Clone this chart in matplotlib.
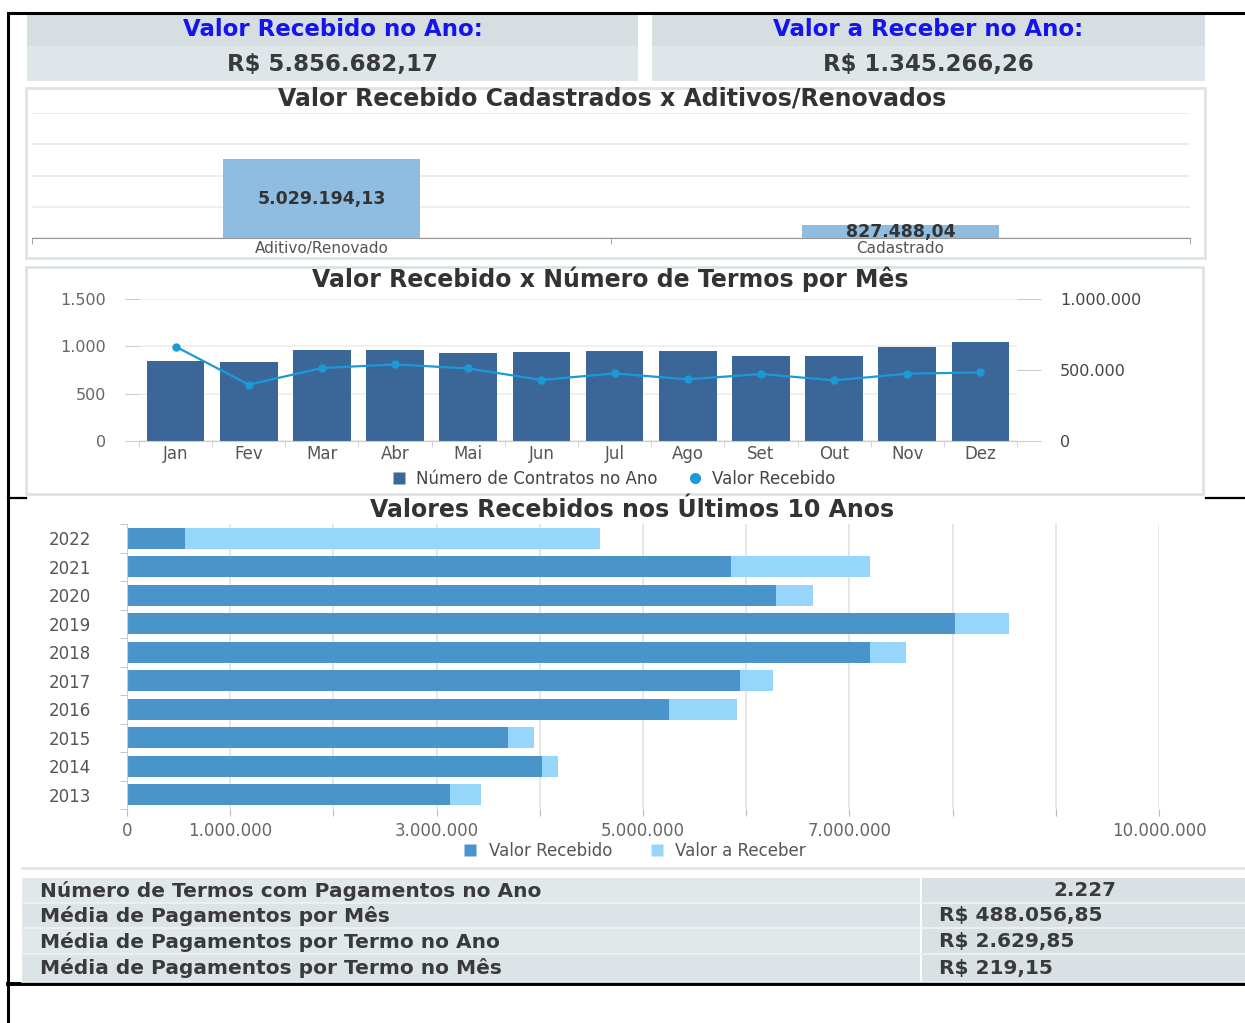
import matplotlib
matplotlib.use('Agg')
import matplotlib.pyplot as plt
from matplotlib.patches import Rectangle
from matplotlib.lines import Line2D
from matplotlib.ticker import FuncFormatter, FixedLocator
import numpy as np

W, H = 1245, 1023

# ---------------- data ----------------
kpi_labels = ['Valor Recebido no Ano:', 'Valor a Receber no Ano:']
kpi_values = ['R$ 5.856.682,17', 'R$ 1.345.266,26']

tipo_categorias = ['Aditivo/Renovado', 'Cadastrado']
tipo_valores = [5029194.13, 827488.04]
tipo_rotulos = ['5.029.194,13', '827.488,04']

meses = ['Jan', 'Fev', 'Mar', 'Abr', 'Mai', 'Jun', 'Jul', 'Ago', 'Set', 'Out', 'Nov', 'Dez']
num_contratos = [848, 831, 962, 958, 933, 937, 951, 951, 901, 898, 990, 1047]
valor_recebido_mes = [665000, 397000, 514000, 539000, 511000, 430000,
                      476000, 434000, 472000, 427000, 474000, 483000]

anos = ['2013', '2014', '2015', '2016', '2017', '2018', '2019', '2020', '2021', '2022']
valor_recebido_ano = [3130000, 4020000, 3690000, 5250000, 5940000,
                      7200000, 8020000, 6290000, 5857000, 560000]
valor_a_receber_ano = [300000, 160000, 250000, 660000, 320000,
                       350000, 530000, 360000, 1345000, 4020000]
anos_xticks = [0, 1e6, 2e6, 3e6, 4e6, 5e6, 6e6, 7e6, 8e6, 9e6, 10e6]
anos_xticklabels = ['0', '1.000.000', '', '3.000.000', '', '5.000.000', '',
                    '7.000.000', '', '', '10.000.000']

tabela_rotulos = ['Número de Termos com Pagamentos no Ano',
                  'Média de Pagamentos por Mês',
                  'Média de Pagamentos por Termo no Ano',
                  'Média de Pagamentos por Termo no Mês']
tabela_valores = ['2.227', 'R$ 488.056,85', 'R$ 2.629,85', 'R$ 219,15']

# ---------------- helpers ----------------
plt.rcParams['font.family'] = ['DejaVu Sans']
fig = plt.figure(figsize=(W / 100, H / 100), dpi=100)
fig.patch.set_facecolor('white')
renderer = fig.canvas.get_renderer()

WF = 0.66  # share of the reference's (stretched) text width that we reproduce


def px(x0, y0, x1, y1):
    return [x0 / W, 1 - y1 / H, (x1 - x0) / W, (y1 - y0) / H]


def br(v, pos=None):
    return f"{int(round(v)):,}".replace(',', '.')


bg = fig.add_axes([0, 0, 1, 1], zorder=-5)
bg.set_xlim(0, W)
bg.set_ylim(H, 0)
bg.axis('off')


def fit_text(x, y, s, target_w, maxsize=None, ax=None, **kw):
    ax = ax or bg
    t = ax.text(x, y, s, fontsize=10, **kw)
    w = t.get_window_extent(renderer).width
    size = 10 * target_w * WF / w
    if maxsize:
        size = min(size, maxsize)
    t.set_fontsize(size)
    return t


def rect(x0, y0, x1, y1, **kw):
    bg.add_patch(Rectangle((x0, y0), x1 - x0, y1 - y0, **kw))


# frame lines
bg.plot([8, 8], [13, H], color='black', lw=2.2)
bg.plot([8, W], [13, 13], color='black', lw=2.2)
bg.plot([8, 26], [498, 498], color='black', lw=1.6)
bg.plot([1206, W], [498, 498], color='black', lw=1.6)
bg.plot([8, W], [984, 984], color='black', lw=2.8)

# ---------------- KPI boxes ----------------
kpi_boxes = [(27, 638), (652, 1205)]
kpi_label_w = [503, 520]
kpi_value_w = [326, 330]
for (x0, x1), lab, val, lw_, vw_ in zip(kpi_boxes, kpi_labels, kpi_values, kpi_label_w, kpi_value_w):
    rect(x0, 15, x1, 46, facecolor='#d6dee1', edgecolor='none')
    rect(x0, 46, x1, 81, facecolor='#dfe6e9', edgecolor='none')
    cx = (x0 + x1) / 2
    fit_text(cx, 30, lab, lw_, maxsize=16.5, ha='center', va='center', color='#1414f0', fontweight='bold')
    fit_text(cx, 64, val, vw_, maxsize=16.5, ha='center', va='center', color='#3a3a3a', fontweight='bold')

# ---------------- chart boxes ----------------
rect(26, 88, 1205, 258, facecolor='white', edgecolor='#dde3e5', lw=2)
rect(26, 267, 1203, 494, facecolor='white', edgecolor='#dde3e5', lw=2)

# ---------------- chart 1 ----------------
fit_text(612, 99, 'Valor Recebido Cadastrados x Aditivos/Renovados', 1058, maxsize=17,
         ha='center', va='center', color='#333333', fontweight='bold')
ax1 = fig.add_axes(px(32, 113, 1190, 238))
ax1.set_facecolor('none')
x1pos = np.arange(len(tipo_categorias))
ax1.bar(x1pos, tipo_valores, width=0.34, color='#8fbde1', zorder=2)
ax1.set_xlim(-0.5, 1.5)
ax1.set_ylim(0, 8e6)
ax1.set_yticks([0, 2e6, 4e6, 6e6, 8e6])
ax1.yaxis.grid(True, color='#ebebeb', lw=1.2)
ax1.tick_params(axis='y', length=0, labelleft=False)
for s in ['top', 'right', 'left']:
    ax1.spines[s].set_visible(False)
ax1.spines['bottom'].set_color('#999999')
ax1.set_xticks(x1pos)
ax1.set_xticklabels(tipo_categorias, color='#555555', fontsize=11)
ax1.tick_params(axis='x', length=0, pad=2)
ax1.xaxis.set_minor_locator(FixedLocator([-0.5, 0.5, 1.5]))
ax1.tick_params(axis='x', which='minor', length=4, color='#999999')
for xp, v, lab in zip(x1pos, tipo_valores, tipo_rotulos):
    ax1.text(xp, v / 2, lab, ha='center', va='center', color='#333333',
             fontsize=12.5, fontweight='bold', zorder=3)

# ---------------- chart 2 ----------------
fit_text(610, 279, 'Valor Recebido x Número de Termos por Mês', 946, maxsize=17,
         ha='center', va='center', color='#333333', fontweight='bold')
ax2 = fig.add_axes(px(139, 299, 1017, 441))
ax2.set_facecolor('none')
xm = np.arange(len(meses))
ax2.bar(xm, num_contratos, width=0.79, color='#3a6698', zorder=2,
        label='Número de Contratos no Ano')
ax2.set_xlim(-0.5, len(meses) - 0.5)
ax2.set_ylim(0, 1500)
ax2.set_yticks([0, 500, 1000, 1500])
ax2.yaxis.set_major_formatter(FuncFormatter(br))
ax2.yaxis.grid(True, color='#eeeeee', lw=1.2)
ax2.set_axisbelow(True)
for s in ['top', 'right', 'left']:
    ax2.spines[s].set_visible(False)
ax2.spines['bottom'].set_color('#cccccc')
ax2.tick_params(axis='y', length=10, color='#cccccc', pad=14, labelcolor='#666666', labelsize=11.5)
ax2.set_xticks(xm)
ax2.set_xticklabels(meses, color='#555555', fontsize=12)
ax2.tick_params(axis='x', length=0, pad=3)
ax2.xaxis.set_minor_locator(FixedLocator(np.arange(-0.5, len(meses), 1.0)))
ax2.tick_params(axis='x', which='minor', length=4, color='#cccccc')

ax2b = ax2.twinx()
ax2b.plot(xm, valor_recebido_mes, color='#1b9ad7', lw=1.6, marker='o', ms=5, zorder=4,
          label='Valor Recebido')
ax2b.set_ylim(0, 1000000)
ax2b.set_yticks([0, 500000, 1000000])
ax2b.yaxis.set_major_formatter(FuncFormatter(br))
for s in ['top', 'right', 'left', 'bottom']:
    ax2b.spines[s].set_visible(False)
ax2b.tick_params(axis='y', length=17, color='#cccccc', pad=14, labelcolor='#444444', labelsize=11.5)

h_bar = Line2D([], [], marker='s', color='none', markerfacecolor='#3a6698',
               markeredgecolor='none', markersize=9)
h_line = Line2D([], [], marker='o', color='none', markerfacecolor='#1b9ad7',
                markeredgecolor='none', markersize=8)
fig.legend([h_bar, h_line], ['Número de Contratos no Ano', 'Valor Recebido'],
           loc='center', bbox_to_anchor=(613 / W, 1 - 479 / H), ncol=2, frameon=False,
           fontsize=12, labelcolor='#444444', handletextpad=0.5, columnspacing=1.8,
           handlelength=1.0)

# ---------------- chart 3 ----------------
fit_text(632, 510, 'Valores Recebidos nos Últimos 10 Anos', 857, maxsize=17,
         ha='center', va='center', color='#333333', fontweight='bold')
ax3 = fig.add_axes(px(127, 524, 1159, 809))
ax3.set_facecolor('none')
ya = np.arange(len(anos))
ax3.barh(ya, valor_recebido_ano, height=0.73, color='#4a94cc', zorder=2, label='Valor Recebido')
ax3.barh(ya, valor_a_receber_ano, left=valor_recebido_ano, height=0.73, color='#96d6fb',
         zorder=2, label='Valor a Receber')
ax3.set_ylim(-0.5, len(anos) - 0.5)
ax3.set_xlim(0, 10e6)
ax3.set_xticks(anos_xticks)
ax3.set_xticklabels(anos_xticklabels)
ax3.xaxis.grid(True, color='#e2e2e2', lw=1.2)
ax3.set_axisbelow(True)
ax3.set_yticks(ya)
ax3.set_yticklabels(anos)
ax3.tick_params(axis='y', length=0, pad=26, labelcolor='#555555', labelsize=12)
ax3.yaxis.set_minor_locator(FixedLocator(np.arange(-0.5, len(anos), 1.0)))
ax3.tick_params(axis='y', which='minor', length=5, color='#bbbbbb')
ax3.tick_params(axis='x', length=5, color='#bbbbbb', labelcolor='#666666', labelsize=12, pad=4)
for s in ['top', 'right', 'bottom']:
    ax3.spines[s].set_visible(False)
ax3.spines['left'].set_color('#cccccc')
h1 = Line2D([], [], marker='s', color='none', markerfacecolor='#4a94cc',
            markeredgecolor='none', markersize=9)
h2 = Line2D([], [], marker='s', color='none', markerfacecolor='#96d6fb',
            markeredgecolor='none', markersize=9)
fig.legend([h1, h2], ['Valor Recebido', 'Valor a Receber'],
           loc='center', bbox_to_anchor=(634 / W, 1 - 851 / H), ncol=2, frameon=False,
           fontsize=12, labelcolor='#555555', handletextpad=0.6, columnspacing=2.2,
           handlelength=1.0)

# ---------------- table ----------------
bg.plot([22, W], [868, 868], color='#dfe5e7', lw=2)
rows_y = [(878, 903), (903, 928), (928, 954), (954, 982)]
left_bg = ['#e1e8ea', '#dce4e7', '#e1e8ea', '#dce4e7']
lab_w = [845, 578, 768, 768]
val_w = [96, 259, 210, 180]
for (y0, y1), lab, val, lbg, lw_, vw_ in zip(rows_y, tabela_rotulos, tabela_valores, left_bg, lab_w, val_w):
    rect(22, y0, 920, y1, facecolor=lbg, edgecolor='none')
    rect(922, y0, W, y1, facecolor='#d9e1e4', edgecolor='none')
    bg.plot([22, W], [y1, y1], color='#eef2f3', lw=1.2)
    yc = (y0 + y1) / 2 + 0.5
    fit_text(40, yc, lab, lw_, maxsize=14.5, ha='left', va='center', color='#3a3a3a', fontweight='bold')
    if val == tabela_valores[0]:
        fit_text(1085, yc, val, vw_, maxsize=14.5, ha='center', va='center', color='#3a3a3a', fontweight='bold')
    else:
        fit_text(939, yc, val, vw_, maxsize=14.5, ha='left', va='center', color='#3a3a3a', fontweight='bold')

fig.savefig('out.png', dpi=100, facecolor='white')
